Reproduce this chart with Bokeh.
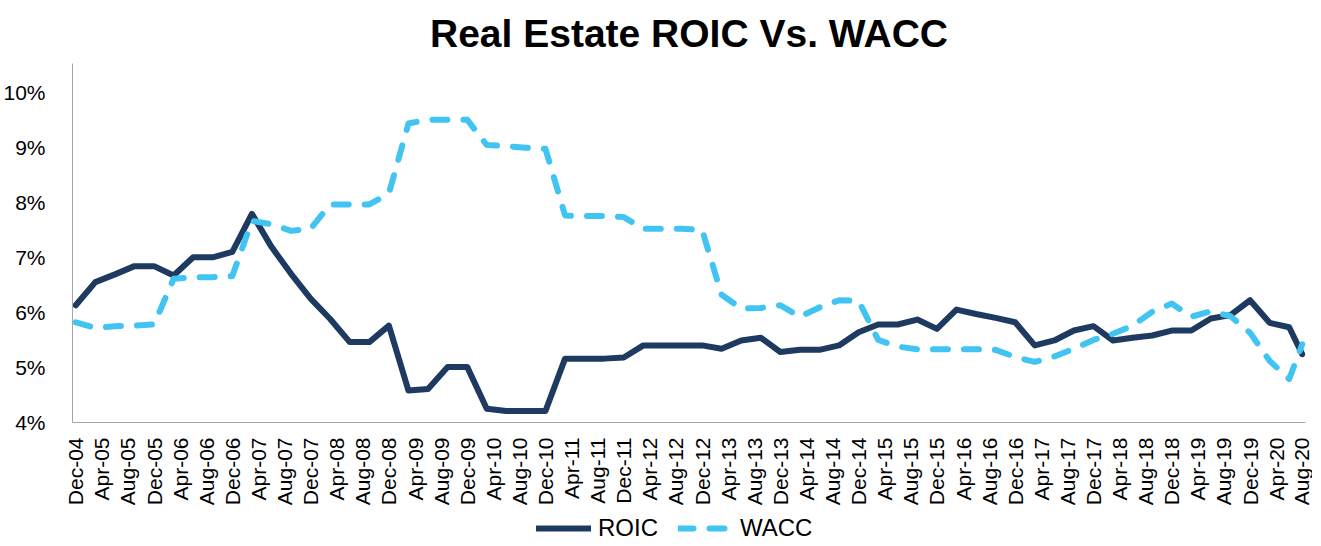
import numpy as np
from bokeh.plotting import figure
from bokeh.layouts import column
from bokeh.models import (Range1d, FixedTicker, Legend, LegendItem,
                          PrintfTickFormatter)
from bokeh.embed import file_html
from bokeh.resources import INLINE

# ---- data (quarterly observations, last one Aug-20) ----
dates = (["2004-12"]
         + [f"{y}-{m:02d}" for y in range(2005, 2021) for m in (3, 6, 9, 12)][:-2]
         + ["2020-08"])

roic = [6.13, 6.55, 6.69, 6.84, 6.84, 6.67, 7.00, 7.00, 7.10, 7.79,
        7.19, 6.70, 6.25, 5.88, 5.46, 5.46, 5.76, 4.58, 4.61, 5.01,
        5.01, 4.25, 4.21, 4.21, 4.21, 5.16, 5.16, 5.16, 5.18, 5.40,
        5.40, 5.40, 5.40, 5.34, 5.49, 5.54, 5.28, 5.32, 5.32, 5.40,
        5.64, 5.78, 5.78, 5.87, 5.70, 6.05, 5.97, 5.90, 5.82, 5.40,
        5.49, 5.67, 5.75, 5.49, 5.54, 5.58, 5.67, 5.67, 5.89, 5.95,
        6.22, 5.81, 5.73, 5.24]

wacc = [5.82, 5.72, 5.75, 5.76, 5.78, 6.61, 6.64, 6.64, 6.66, 7.66,
        7.60, 7.48, 7.52, 7.96, 7.96, 7.96, 8.16, 9.43, 9.50, 9.50,
        9.50, 9.04, 9.02, 8.99, 8.97, 7.76, 7.75, 7.75, 7.73, 7.52,
        7.52, 7.52, 7.50, 6.32, 6.07, 6.08, 6.13, 5.92, 6.09, 6.22,
        6.21, 5.50, 5.38, 5.33, 5.33, 5.33, 5.33, 5.32, 5.19, 5.10,
        5.20, 5.34, 5.50, 5.61, 5.76, 6.01, 6.16, 5.92, 6.02, 5.93,
        5.63, 5.12, 4.79, 5.42]

tick_labels = ["Dec-04", "Apr-05", "Aug-05", "Dec-05", "Apr-06", "Aug-06", "Dec-06",
               "Apr-07", "Aug-07", "Dec-07", "Apr-08", "Aug-08", "Dec-08", "Apr-09",
               "Aug-09", "Dec-09", "Apr-10", "Aug-10", "Dec-10", "Apr-11", "Aug-11",
               "Dec-11", "Apr-12", "Aug-12", "Dec-12", "Apr-13", "Aug-13", "Dec-13",
               "Apr-14", "Aug-14", "Dec-14", "Apr-15", "Aug-15", "Dec-15", "Apr-16",
               "Aug-16", "Dec-16", "Apr-17", "Aug-17", "Dec-17", "Apr-18", "Aug-18",
               "Dec-18", "Apr-19", "Aug-19", "Dec-19", "Apr-20", "Aug-20"]

y_ticks = [4, 5, 6, 7, 8, 9, 10]
series_names = ["ROIC", "WACC"]

# ---- helpers ----
MONTHS = {"Jan": 1, "Feb": 2, "Mar": 3, "Apr": 4, "May": 5, "Jun": 6,
          "Jul": 7, "Aug": 8, "Sep": 9, "Oct": 10, "Nov": 11, "Dec": 12}


def month_index(year, month):
    return (year - 2004) * 12 + month - 12


x = [month_index(int(d[:4]), int(d[5:])) for d in dates]
tick_pos = [month_index(2000 + int(t[4:]), MONTHS[t[:3]]) for t in tick_labels]

FONT = "Liberation Sans"
NAVY = "#1F3A60"
SKY = "#41C4F2"
ROIC_STYLE = dict(line_width=6, line_color=NAVY, line_join="round", line_cap="round")
WACC_STYLE = dict(line_width=6, line_color=SKY, line_dash="15 16",
                  line_join="round", line_cap="round")

p = figure(frame_width=1233, frame_height=359,
           output_backend="svg", toolbar_location=None,
           x_range=Range1d(-0.5, 188.5), y_range=Range1d(4, 10.52),
           min_border_left=65, min_border_right=7, min_border_top=0,
           min_border_bottom=0)

p.title.text = "Real Estate ROIC Vs. WACC"
p.title.text_font = FONT
p.title.text_font_size = "39px"
p.title.text_font_style = "bold"
p.title.text_color = "#000000"
p.title.align = "center"
p.title.standoff = 18

p.outline_line_color = None
p.xgrid.visible = False
p.ygrid.visible = False
p.background_fill_color = "white"
p.border_fill_color = "white"

p.line(x, roic, **ROIC_STYLE)
p.line(x, wacc, **WACC_STYLE)

# y axis
p.yaxis.ticker = FixedTicker(ticks=y_ticks)
p.yaxis.formatter = PrintfTickFormatter(format="%d%%")
p.yaxis.major_label_text_font = FONT
p.yaxis.major_label_text_font_size = "21px"
p.yaxis.major_label_text_color = "#000000"
p.yaxis.major_tick_line_color = None
p.yaxis.minor_tick_line_color = None
p.yaxis.axis_line_color = "#A6A6A6"
p.yaxis.major_label_standoff = 21

# x axis
p.xaxis.ticker = FixedTicker(ticks=tick_pos)
p.xaxis.major_label_overrides = {pos: lab for pos, lab in zip(tick_pos, tick_labels)}
p.xaxis.major_label_orientation = np.pi / 2
p.xaxis.major_label_text_font = FONT
p.xaxis.major_label_text_font_size = "21px"
p.xaxis.major_label_text_color = "#000000"
p.xaxis.major_tick_line_color = None
p.xaxis.minor_tick_line_color = None
p.xaxis.axis_line_color = "#A6A6A6"
p.xaxis.major_label_standoff = 9

# ---- legend strip below the chart (series drawn outside its visible y range) ----
lg = figure(width=1305, height=34, output_backend="svg", toolbar_location=None,
            x_range=Range1d(-0.5, 188.5), y_range=Range1d(100, 134),
            x_axis_type=None, y_axis_type=None,
            min_border_left=0, min_border_right=0, min_border_top=0,
            min_border_bottom=0)
lg.outline_line_color = None
lg.xgrid.visible = False
lg.ygrid.visible = False
lg.border_fill_color = "white"
r1 = lg.line(x, roic, **ROIC_STYLE)
r2 = lg.line(x, wacc, **WACC_STYLE)
legend = Legend(items=[LegendItem(label=series_names[0], renderers=[r1]),
                       LegendItem(label=series_names[1], renderers=[r2])],
                orientation="horizontal", location=(464, 0),
                glyph_width=55, glyph_height=20, label_standoff=7, spacing=20,
                label_text_font=FONT, label_text_font_size="24px",
                label_text_color="#000000",
                border_line_color=None, background_fill_alpha=0,
                padding=0, margin=0)
lg.add_layout(legend)

layout = column(p, lg, spacing=0)
open("out.html", "w").write(file_html(layout, INLINE))
